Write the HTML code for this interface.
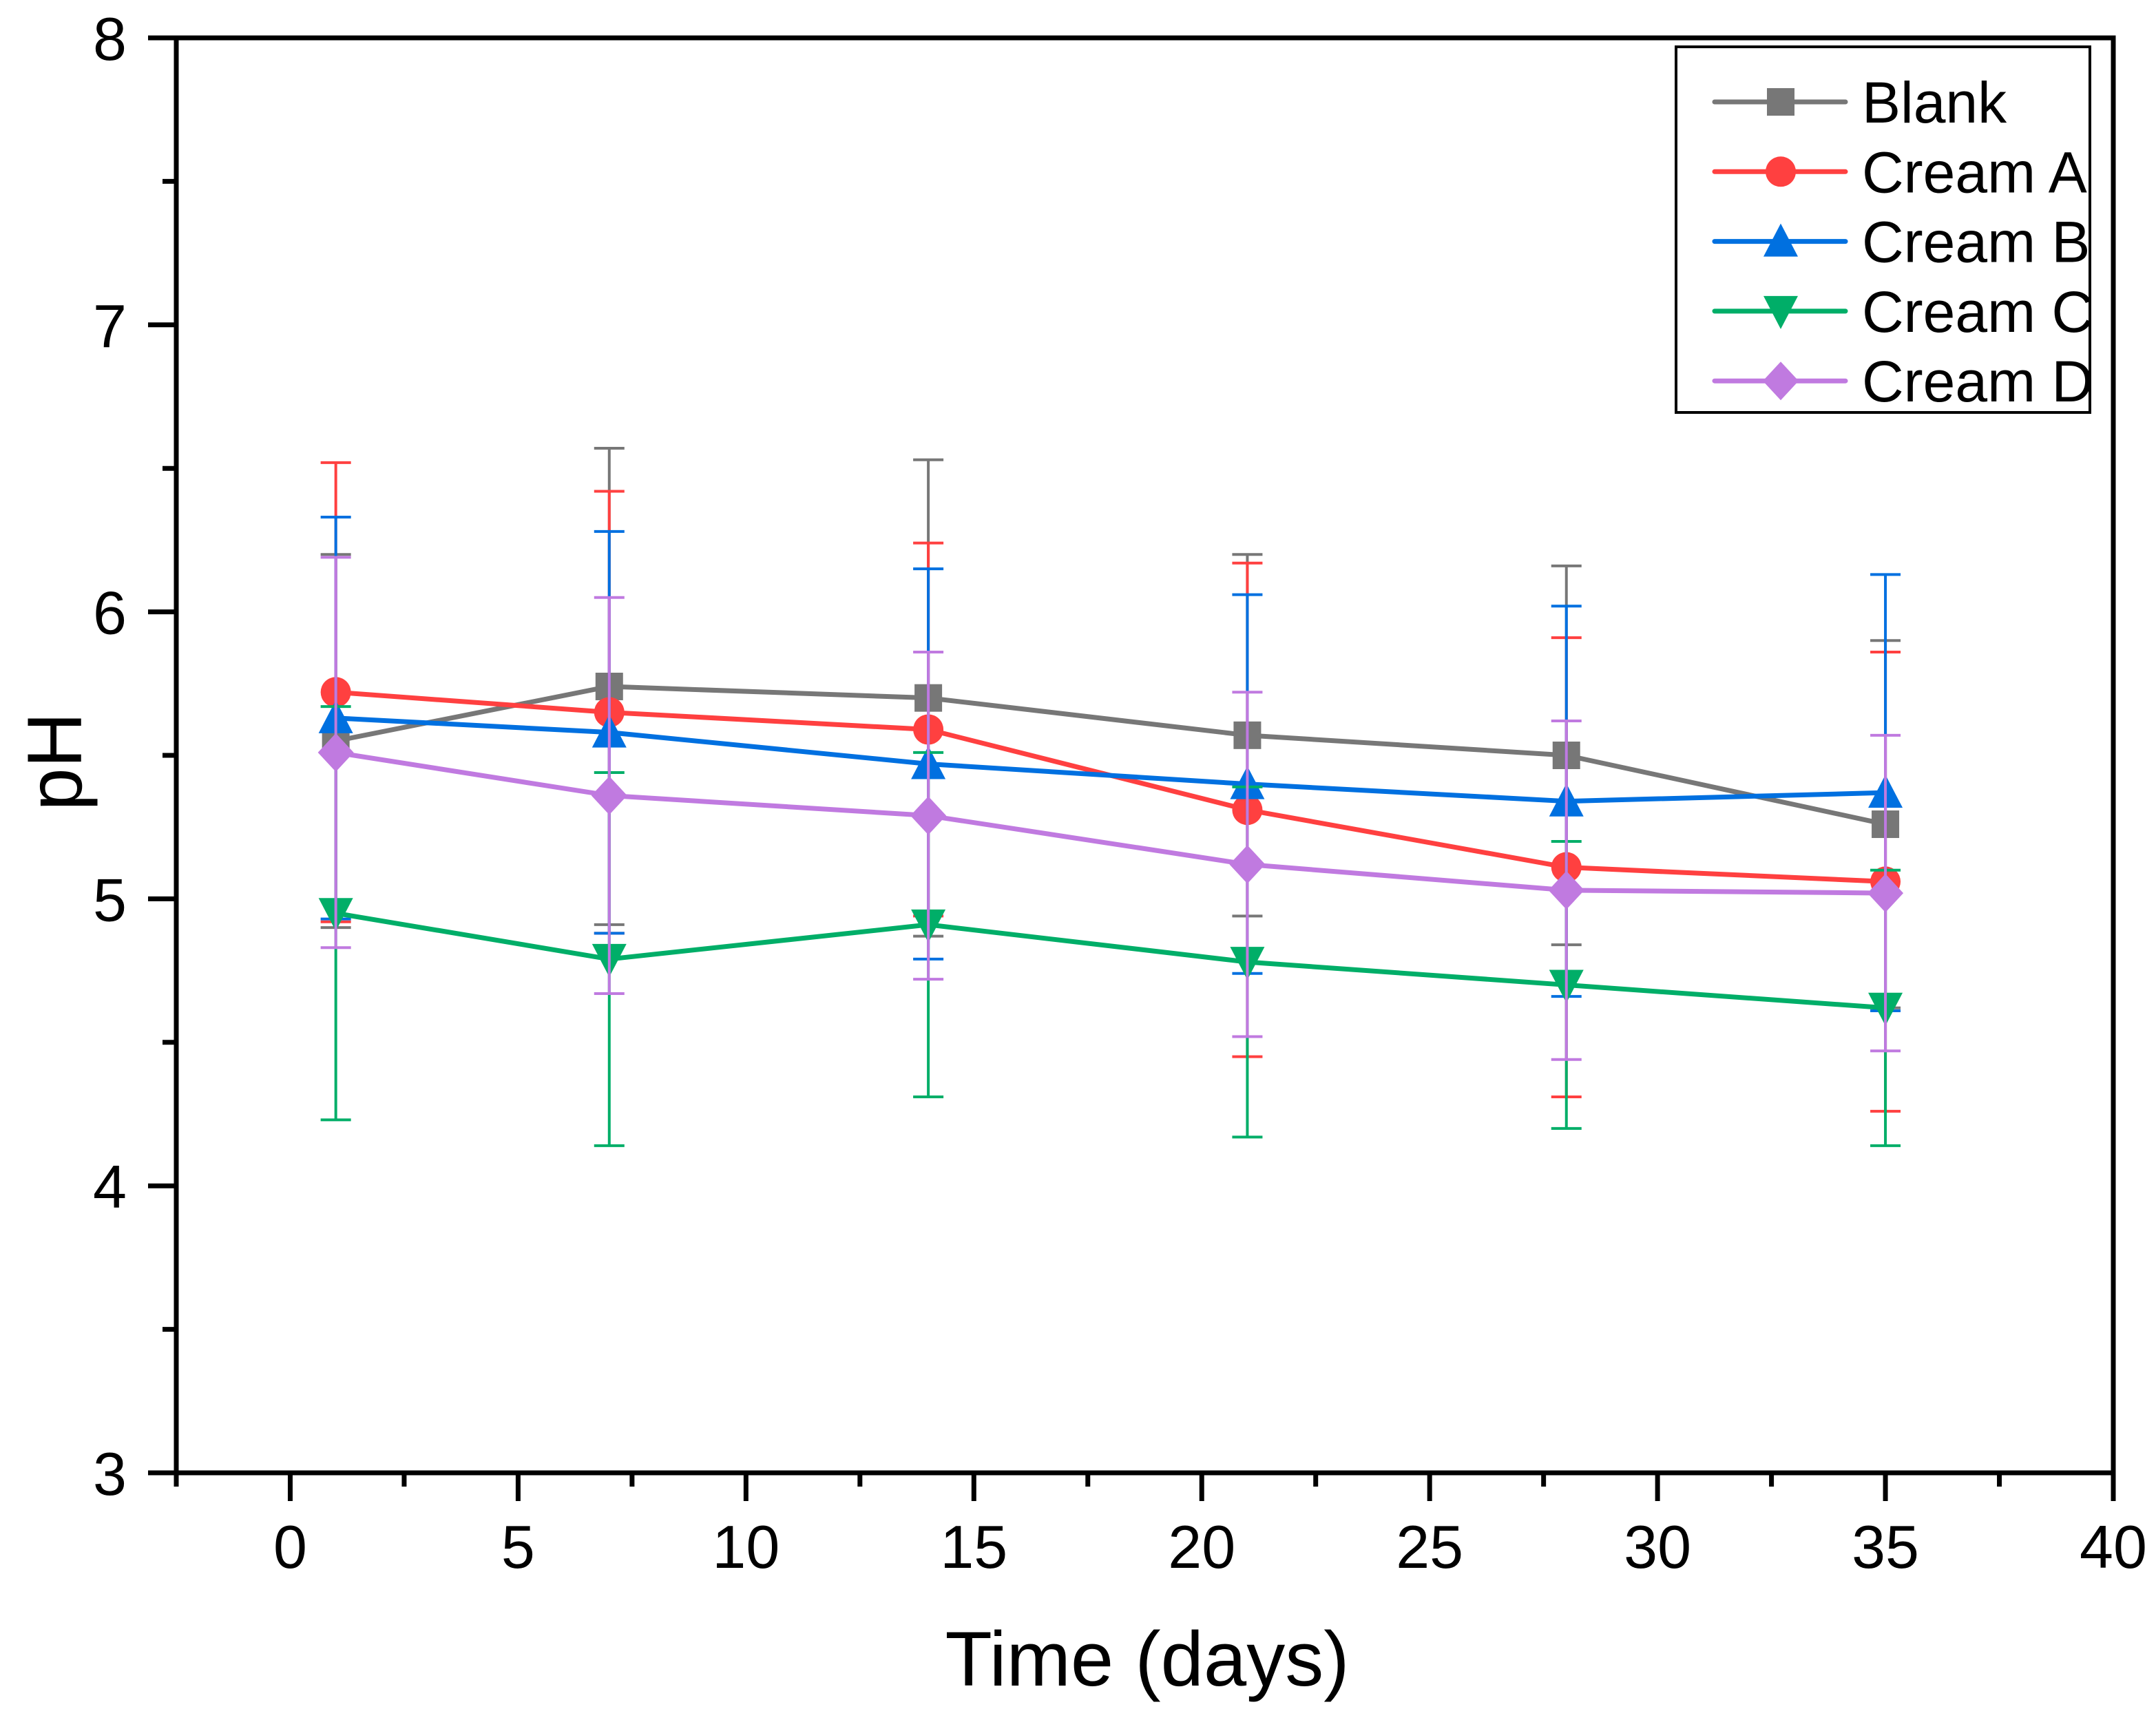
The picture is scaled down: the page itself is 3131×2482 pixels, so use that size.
<!DOCTYPE html>
<html><head><meta charset="utf-8"><style>
html,body{margin:0;padding:0;background:#fff}
svg text{font-family:"Liberation Sans",Arial,sans-serif}
</style></head><body>
<svg id="chart" width="3131" height="2477" viewBox="0 0 3131 2477" xmlns="http://www.w3.org/2000/svg">
<rect width="3131" height="2477" fill="#fff"/>
<g id="errs"></g><g id="series"></g>
<g id="axes"></g>
</svg>
<script>
const days = [1, 7, 14, 21, 28, 35];
const seriesNames = ["Blank", "Cream A", "Cream B", "Cream C", "Cream D"];
const blankVals = [5.55, 5.74, 5.70, 5.57, 5.50, 5.26];
const blankErr = [0.65, 0.83, 0.83, 0.63, 0.66, 0.64];
const creamAVals = [5.72, 5.65, 5.59, 5.31, 5.11, 5.06];
const creamAErr = [0.80, 0.77, 0.65, 0.86, 0.80, 0.80];
const creamBVals = [5.63, 5.58, 5.47, 5.40, 5.34, 5.37];
const creamBErr = [0.70, 0.70, 0.68, 0.66, 0.68, 0.76];
const creamCVals = [4.95, 4.79, 4.91, 4.78, 4.70, 4.62];
const creamCErr = [0.72, 0.65, 0.60, 0.61, 0.50, 0.48];
const creamDVals = [5.51, 5.36, 5.29, 5.12, 5.03, 5.02];
const creamDErr = [0.68, 0.69, 0.57, 0.60, 0.59, 0.55];
const xTicks = [0, 5, 10, 15, 20, 25, 30, 35, 40];
const yTicks = [3, 4, 5, 6, 7, 8];

const L=256,R=3069,T=55,B=2139, XMIN=-2.5,XMAX=40,YMIN=3,YMAX=8;
const xs=v=>L+(v-XMIN)/(XMAX-XMIN)*(R-L);
const ys=v=>B-(v-YMIN)/(YMAX-YMIN)*(B-T);
const NS="http://www.w3.org/2000/svg";
function mk(tag,attrs,parent){const e=document.createElementNS(NS,tag);for(const k in attrs)e.setAttribute(k,attrs[k]);parent.appendChild(e);return e;}
const colors=["#777777","#ff4040","#0070e0","#00ae68","#c07ae0"];
const shapes=["square","circle","up","down","diamond"];
const vals=[blankVals,creamAVals,creamBVals,creamCVals,creamDVals];
const errs=[blankErr,creamAErr,creamBErr,creamCErr,creamDErr];
const svg=document.getElementById('chart');
const axes=document.getElementById('axes');

function marker(shape,cx,cy,c,parent,s){
  s=s||22;let e;
  if(shape==="square") e=mk('rect',{x:cx-s+2,y:cy-s+2,width:2*s-4,height:2*s-4,fill:c},parent);
  else if(shape==="circle") e=mk('circle',{cx:cx,cy:cy,r:s,fill:c},parent);
  else if(shape==="up") e=mk('polygon',{points:`${cx},${cy-s-4} ${cx+s+3},${cy+s} ${cx-s-3},${cy+s}`,fill:c},parent);
  else if(shape==="down") e=mk('polygon',{points:`${cx},${cy+s+4} ${cx+s+3},${cy-s} ${cx-s-3},${cy-s}`,fill:c},parent);
  else e=mk('polygon',{points:`${cx},${cy-s-6} ${cx+s+4},${cy} ${cx},${cy+s+6} ${cx-s-4},${cy}`,fill:c},parent);
  return e;
}

const sg=document.getElementById('series');
vals.forEach((v,si)=>{
  const g=mk('g',{},sg);
  
  
  const pts=days.map((d,i)=>xs(d)+','+ys(v[i])).join(' ');
  const pl=mk('polyline',{points:pts,fill:'none',stroke:colors[si],'stroke-width':7,'stroke-linejoin':'round'},g);
  
  
  days.forEach((d,i)=>{
    const m=marker(shapes[si],xs(d),ys(v[i]),colors[si],g);
    
    
  });
  days.forEach((d,i)=>{
    const x=xs(d),y1=ys(v[i]+errs[si][i]),y2=ys(v[i]-errs[si][i]);
    const eb=mk('g',{stroke:colors[si],'stroke-width':4},g);
    
    
    mk('line',{x1:x,x2:x,y1:y1,y2:y2},eb);
    mk('line',{x1:x-22,x2:x+22,y1:y1,y2:y1},eb);
    mk('line',{x1:x-22,x2:x+22,y1:y2,y2:y2},eb);
  });
});

// axes frame
const fr=mk('rect',{x:L,y:T,width:R-L,height:B-T,fill:'none',stroke:'#000','stroke-width':7},axes);


xTicks.forEach(t=>{
  const x=xs(t);
  mk('line',{x1:x,x2:x,y1:B,y2:B+41,stroke:'#000','stroke-width':7},axes);
  const tx=mk('text',{x:x,y:2277,'font-size':88,'text-anchor':'middle'},axes);
  tx.textContent=t;
  
  
});
for(let t=-2.5;t<=40;t+=5){const x=xs(t);mk('line',{x1:x,x2:x,y1:B,y2:B+20,stroke:'#000','stroke-width':7},axes);}
yTicks.forEach(t=>{
  const y=ys(t);
  mk('line',{x1:L-41,x2:L,y1:y,y2:y,stroke:'#000','stroke-width':7},axes);
  const tx=mk('text',{x:184,y:y+32,'font-size':88,'text-anchor':'end'},axes);
  tx.textContent=t;
  
  
});
for(let t=3.5;t<8;t+=1){const y=ys(t);mk('line',{x1:L-20,x2:L,y1:y,y2:y,stroke:'#000','stroke-width':7},axes);}

const xt=mk('text',{x:1666,y:2448,'font-size':112,'text-anchor':'middle'},axes);
xt.textContent='Time (days)';


const yt=mk('text',{x:0,y:0,'font-size':112,'text-anchor':'middle',transform:'translate(118,1106) rotate(-90)'},axes);
yt.textContent='pH';



// legend
const lg=mk('g',{},axes);


mk('rect',{x:2434,y:68,width:601,height:531,fill:'#fff',stroke:'#000','stroke-width':4},lg);
seriesNames.forEach((n,i)=>{
  const y=148+i*101.3;
  const e=mk('g',{},lg);
  
  
  mk('line',{x1:2490,x2:2680,y1:y,y2:y,stroke:colors[i],'stroke-width':7,'stroke-linecap':'round'},e);
  marker(shapes[i],2586,y,colors[i],e,22);
  const t=mk('text',{x:2704,y:y+30,'font-size':84},e);
  t.textContent=n;
});
</script>
</body></html>
